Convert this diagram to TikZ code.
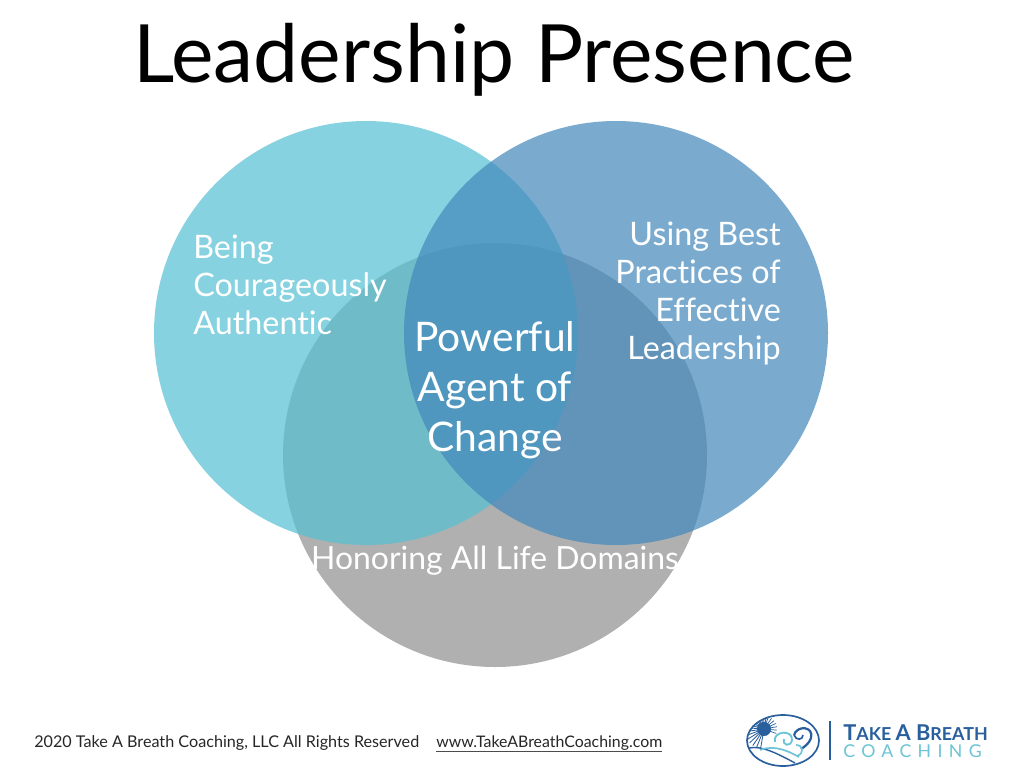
\documentclass[tikz,border=0pt]{standalone}
\usepackage{fontspec}
\setmainfont[Ligatures=NoCommon]{Lato}
\definecolor{leftblue}{HTML}{55C0D3}
\definecolor{rightblue}{HTML}{4288BC}
\definecolor{lowgray}{HTML}{B0B0B0}
\definecolor{logoblue}{HTML}{2A5F9E}
\definecolor{logoteal}{HTML}{6CC4D6}
\tikzset{
  petal/.style={text=white, font=\fontsize{23}{27}\selectfont, inner sep=0pt},
  core/.style={text=white, font=\fontsize{29}{35.6}\selectfont, align=center, inner sep=0pt},
  foot/.style={font=\fontsize{11.4}{13}\selectfont, text=black!85, inner sep=0pt, anchor=base west},
}
\begin{document}
\begin{tikzpicture}[x=0.25mm, y=-0.25mm]
  \useasboundingbox (0,0) rectangle (1024,768);
  \fill[white] (0,0) rectangle (1024,768);

  \fill[lowgray] (495,455) circle (212);
  \fill[leftblue, opacity=0.7] (366,333) circle (212);
  \fill[rightblue, opacity=0.7] (616,333) circle (212);

  \node[inner sep=0pt, font=\fontsize{57.2}{70}\selectfont] (title) at (494,60) {Leadership Presence};

  \node[petal, align=left, anchor=north west] (authentic) at (193,235) {Being\\Courageously\\Authentic};
  \node[petal, align=right, anchor=north east] (practices) at (781,222) {Using Best\\Practices of\\Effective\\Leadership};
  \node[core] (agent) at (495,390) {Powerful\\Agent of\\Change};
  \node[petal, font=\fontsize{22.7}{27}\selectfont] (domains) at (495,561) {Honoring All Life Domains};

  \node[foot, font=\fontsize{11.5}{13}\selectfont] (rights) at (34,747) {2020 Take A Breath Coaching, LLC All Rights Reserved};
  \node[foot, font=\fontsize{11.3}{13}\selectfont] (site) at (436,747) {www.TakeABreathCoaching.com};
  \draw[black!70, line width=0.4pt] (436,751) -- (662,751);

  % logo
  \draw[logoblue, line width=1.2pt] (783,740.5) ellipse (36 and 25.5);
  \begin{scope}
    \clip (783,740.5) ellipse (36 and 25.5);
    \foreach \ang in {100,112,...,280}
      \draw[logoblue, line width=0.6pt] (764,729) -- ++(\ang:20);
    \foreach \ang in {-70,-55,...,20}
      \draw[logoblue, line width=0.5pt] (764,729) -- ++(\ang:13);
    \fill[logoblue] (764,729) circle (7);
  \end{scope}
  \draw[logoblue, line width=1pt] (749,748) .. controls (762,745) and (780,755) .. (795,763);
  \draw[logoteal, line width=1.2pt] (760,750) .. controls (775,744) and (790,752) .. (799,757);
  \draw[logoteal, line width=1.3pt] (775,742) .. controls (772,731) and (793,729) .. (792,740) .. controls (791,747) and (782,746) .. (784,739);
  \draw[logoblue, line width=1.6pt] (794,735) .. controls (797,725) and (814,726) .. (811,738) .. controls (809,744) and (804,747) .. (801,749);
  \draw[logoblue, line width=1.2pt] (794,735) .. controls (796,741) and (803,740) .. (803,735);
  \draw[logoteal, line width=1.2pt] (796,745) .. controls (803,745) and (805,753) .. (797,756);
  \draw[logoblue, line width=1.5pt] (830,721) -- (830,760);
  \node[inner sep=0pt, anchor=base west, align=left] (brand) at (843,757) {%
    {\color{logoblue}\bfseries\fontsize{12.7}{10.7}\selectfont{\fontsize{15.5}{10.7}\selectfont T}AKE {\fontsize{15.5}{10.7}\selectfont A B}REATH}\\
    {\color{logoteal}\fontsize{12.6}{10.7}\selectfont\addfontfeature{LetterSpace=36}COACHING}};
\end{tikzpicture}
\end{document}
